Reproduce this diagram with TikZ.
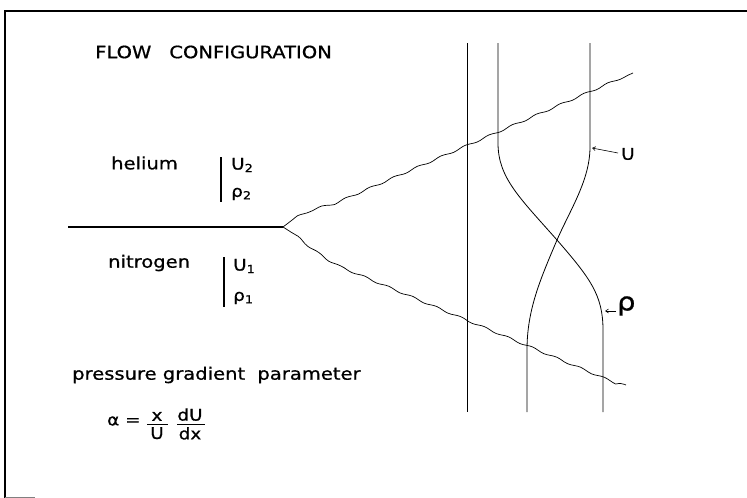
\documentclass[tikz,border=0pt]{standalone}
\usepackage{fontspec}
\setmainfont[FakeStretch=1.15,FakeBold=0.8]{DejaVu Sans}
\usetikzlibrary{arrows.meta,decorations.pathmorphing}
\begin{document}
\begin{tikzpicture}[x=1pt,y=-1pt,
  txt/.style={inner sep=0pt,font=\fontsize{17}{20}\selectfont},
  lbl/.style={txt,anchor=west},
  sym/.style={inner sep=0pt,font=\fontsize{16}{19}\selectfont,anchor=west},
  curve/.style={line width=0.8pt},
  thinline/.style={line width=0.6pt},
  wavy/.style={line width=0.7pt,decorate,decoration={snake,amplitude=0.9pt,segment length=26pt,pre length=10pt}},
  bar/.style={line width=1.2pt},
  pointer/.style={line width=0.6pt,-{Straight Barb[length=3pt,width=4pt]}}]
\useasboundingbox (0,0) rectangle (747,498);
% frame
\draw[line width=1.2pt] (5,498) -- (5,11) -- (747,11);
\draw[line width=0.5pt,gray] (5,497) -- (35,497);
% title
\node[lbl] (title) at (95,52) {FLOW\hspace{18pt}CONFIGURATION};
% helium
\node[lbl] (he) at (111,163) {helium};
\coordinate (b1t) at (221,157);
\coordinate (b1b) at (221,202);
\draw[bar] (b1t) -- (b1b);
\node[sym] (U2) at (231,165) {U\textsubscript{2}};
\node[sym] (r2) at (231,194) {ρ\textsubscript{2}};
% splitter plate and mixing layer edges
\coordinate (lead) at (68,227);
\coordinate (tip) at (283,227);
\draw[line width=1.5pt] (lead) -- (tip);
\coordinate (upend) at (633,73);
\coordinate (loend) at (626,385);
\draw[wavy] (tip) .. controls (293,218) and (305,213) .. (325,208) -- (upend);
\draw[wavy] (tip) .. controls (295,233) and (305,246) .. (330,260) -- (loend);
% nitrogen
\node[lbl] (ni) at (108,263) {nitrogen};
\coordinate (b2t) at (224,257);
\coordinate (b2b) at (224,307);
\draw[bar] (b2t) -- (b2b);
\node[sym] (U1) at (233,266) {U\textsubscript{1}};
\node[sym] (r1) at (233,298) {ρ\textsubscript{1}};
% pressure gradient
\node[lbl] (pg) at (72,375) {pressure gradient\hspace{6pt} parameter};
\node[sym] (alpha) at (107,421) {α =};
\node[sym,anchor=south] (xn) at (157,421) {x};
\node[sym,anchor=north] (Ud) at (157,427) {U};
\draw[thinline] (147,424) -- (168,424);
\node[sym,anchor=south] (dUn) at (190,421) {dU};
\node[sym,anchor=north] (dxd) at (190,427) {dx};
\draw[thinline] (177,424) -- (205,424);
% profile axes
\draw[thinline] (467,43) -- (467,412);
% rho profile
\draw[curve] (498,43) -- (498,143) .. controls (498,178) and (520,198) .. (557,240)
  .. controls (590,278) and (603,295) .. (603,330) -- (603,412);
% U profile
\draw[curve] (590,43) -- (590,147) .. controls (590,180) and (570,210) .. (557,240)
  .. controls (540,280) and (527,310) .. (527,350) -- (527,412);
% labels
\node[sym] (Ulab) at (621,154) {U};
\coordinate (Upt) at (592,148);
\draw[pointer] (Ulab.west) ++(-3,-1) -- (Upt);
\node[inner sep=0pt,font=\fontsize{25}{27}\selectfont,anchor=west] (rlab) at (617,306) {ρ};
\coordinate (rpt) at (605,311);
\draw[pointer] (616,311) -- (rpt);
\end{tikzpicture}
\end{document}
